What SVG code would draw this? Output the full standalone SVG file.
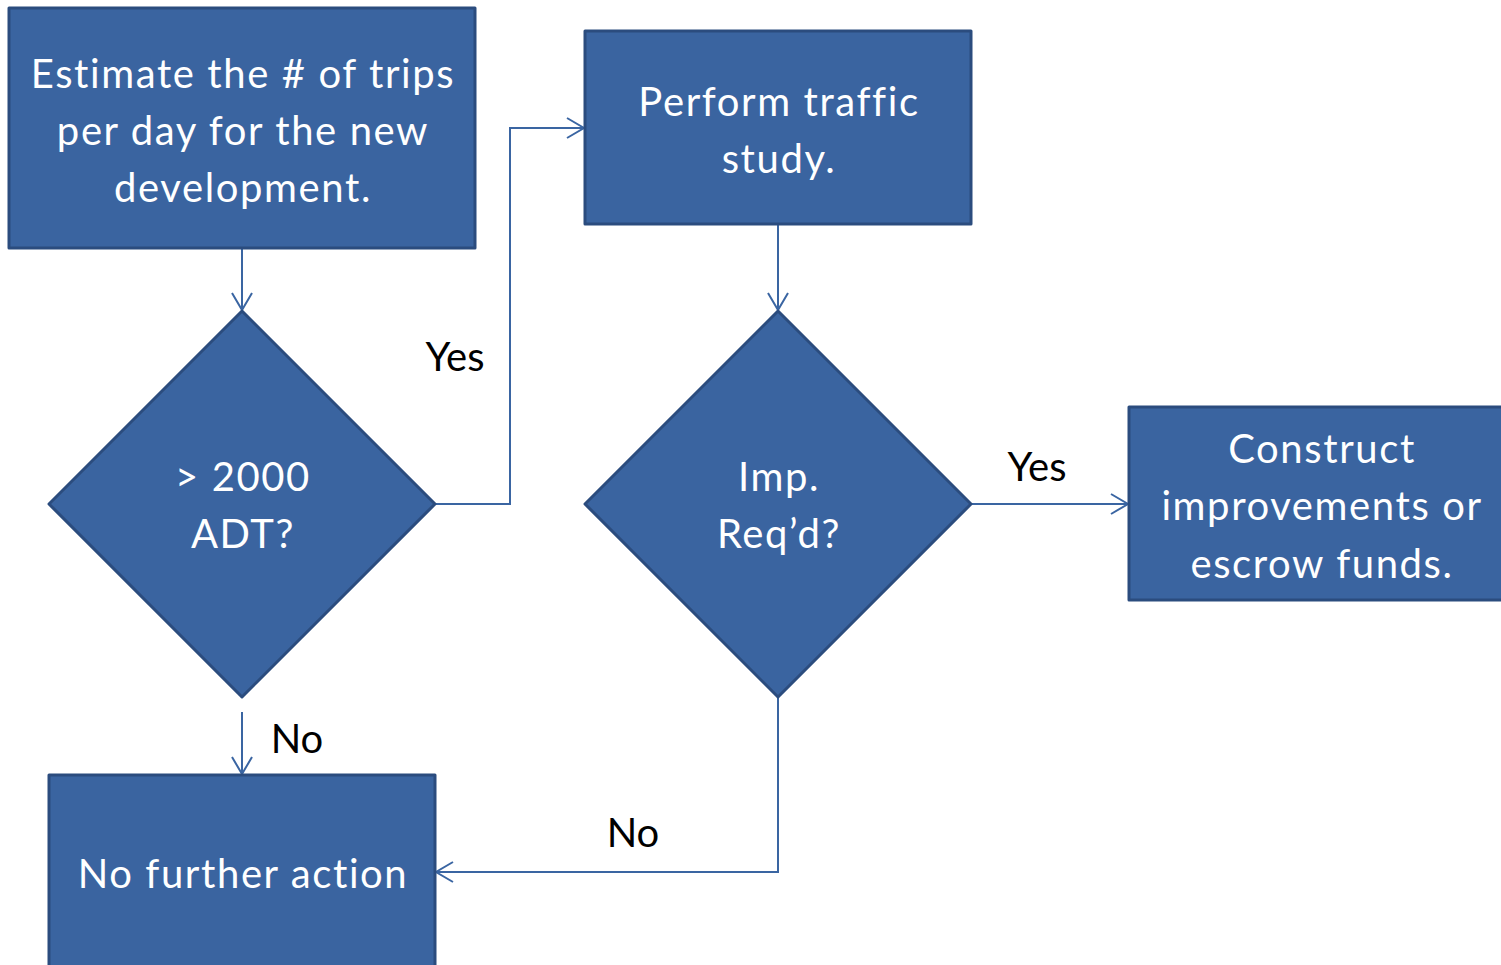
<svg xmlns="http://www.w3.org/2000/svg" width="1501" height="965" viewBox="0 0 1501 965">
  <style>
    .shape { fill: #3A64A0; stroke: #2B4C7E; stroke-width: 3; stroke-linejoin: round; }
    .label { font-family: "Lato", "Open Sans", sans-serif; font-size: 40px; fill: #FFFFFF; text-anchor: middle; letter-spacing: 1.6px; font-variant-ligatures: none; }
    .edge-label { font-family: "Lato", "Open Sans", sans-serif; font-size: 40px; fill: #000000; text-anchor: middle; }
    .wire { fill: none; stroke: #3A65A2; stroke-width: 2; }
  </style>
  <defs>
    <marker id="open-arrow" viewBox="0 0 20 22" refX="18" refY="11" markerWidth="20" markerHeight="22" markerUnits="userSpaceOnUse" orient="auto">
      <path d="M1,1 L18,11 L1,21" fill="none" stroke="#3A65A2" stroke-width="2"/>
    </marker>
  </defs>

  <rect width="1501" height="965" fill="#FFFFFF"/>

  <g id="connectors">
    <path class="wire" d="M242,249 V310" marker-end="url(#open-arrow)"/>
    <path class="wire" d="M435,504 H510 V128 H584" marker-end="url(#open-arrow)"/>
    <path class="wire" d="M778,225 V310" marker-end="url(#open-arrow)"/>
    <path class="wire" d="M971,504 H1128" marker-end="url(#open-arrow)"/>
    <path class="wire" d="M242,712 V774" marker-end="url(#open-arrow)"/>
    <path class="wire" d="M778,697 V872 H436" marker-end="url(#open-arrow)"/>
    <text class="edge-label" x="455" y="371">Yes</text>
    <text class="edge-label" x="1037" y="481">Yes</text>
    <text class="edge-label" x="297" y="753">No</text>
    <text class="edge-label" x="633" y="847">No</text>
  </g>

  <g id="estimate-trips">
    <rect class="shape" x="9" y="8" width="466" height="240"/>
    <text class="label" x="243" y="88">Estimate the # of trips</text>
    <text class="label" x="243" y="145">per day for the new</text>
    <text class="label" x="243" y="202">development.</text>
  </g>

  <g id="traffic-study">
    <rect class="shape" x="585" y="31" width="386" height="193"/>
    <text class="label" x="779" y="116">Perform traffic</text>
    <text class="label" x="779" y="173">study.</text>
  </g>

  <g id="adt-check">
    <polygon class="shape" points="242,311 435,504 242,697 49,504"/>
    <text class="label" x="243" y="491">&gt; 2000</text>
    <text class="label" x="243" y="548">ADT?</text>
  </g>

  <g id="improvements-check">
    <polygon class="shape" points="778,311 971,504 778,697 585,504"/>
    <text class="label" x="779" y="491">Imp.</text>
    <text class="label" x="779" y="548">Req’d?</text>
  </g>

  <g id="construct-improvements">
    <rect class="shape" x="1129" y="407" width="380" height="193"/>
    <text class="label" x="1322" y="463">Construct</text>
    <text class="label" x="1322" y="520">improvements or</text>
    <text class="label" x="1322" y="578">escrow funds.</text>
  </g>

  <g id="no-further-action">
    <rect class="shape" x="49" y="775" width="386" height="200"/>
    <text class="label" x="243" y="888">No further action</text>
  </g>
</svg>
